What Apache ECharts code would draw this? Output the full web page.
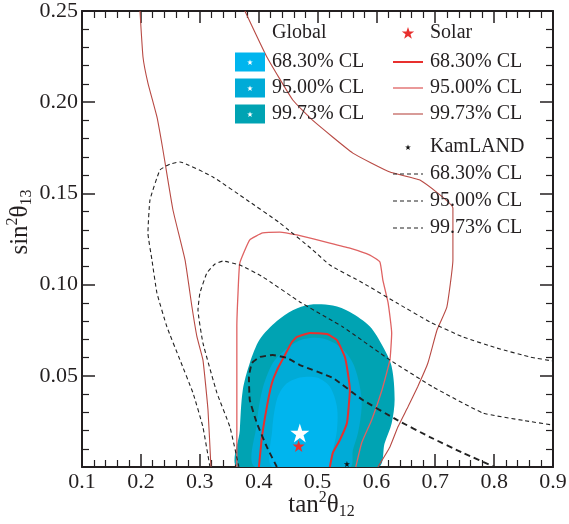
<!DOCTYPE html>
<html><head><meta charset="utf-8">
<script src="https://cdn.jsdelivr.net/npm/echarts@6/dist/echarts.min.js"></script>
<style>html,body{margin:0;padding:0;background:#fff}#c{width:569px;height:524px}</style>
</head><body><div id="c"></div>
<script>
// ---- data ----
const xRange = [0.1, 0.9];
const yRange = [0, 0.25];
const clLabels = ['68.30% CL', '95.00% CL', '99.73% CL'];

// Global fit, filled regions (tan^2 theta12, sin^2 theta13)
const global99 = [[0.365,0],[0.368,0.020],[0.373,0.042],[0.385,0.057],[0.402,0.070],[0.431,0.080],[0.458,0.086],[0.487,0.089],[0.526,0.0885],[0.555,0.085],[0.589,0.077],[0.611,0.066],[0.626,0.055],[0.631,0.037],[0.626,0.024],[0.614,0.013],[0.603,0]];
const global95 = [[0.394,0],[0.397,0.024],[0.406,0.042],[0.424,0.057],[0.448,0.065],[0.475,0.070],[0.509,0.0705],[0.538,0.066],[0.560,0.057],[0.572,0.044],[0.575,0.033],[0.569,0.019],[0.560,0.009],[0.555,0]];
const global68 = [[0.423,0],[0.423,0.020],[0.431,0.037],[0.445,0.045],[0.470,0.049],[0.499,0.049],[0.521,0.044],[0.533,0.033],[0.533,0.020],[0.526,0.009],[0.518,0]];

// Solar contours
const solar68 = [[0.4005,0],[0.4056,0.0164],[0.414,0.033],[0.4226,0.046],[0.431,0.053],[0.4447,0.0614],[0.4565,0.0685],[0.465,0.0713],[0.487,0.0735],[0.516,0.0729],[0.533,0.0696],[0.5465,0.0603],[0.5516,0.0515],[0.555,0.0422],[0.550,0.0241],[0.538,0.0148],[0.526,0.0077],[0.521,0]];
const solar95 = [[0.363,0],[0.363,0.0406],[0.363,0.0768],[0.365,0.0954],[0.368,0.1118],[0.385,0.1245],[0.407,0.1283],[0.436,0.1288],[0.465,0.1272],[0.521,0.1228],[0.555,0.120],[0.589,0.1162],[0.606,0.1124],[0.611,0.1025],[0.620,0.0899],[0.626,0.0735],[0.623,0.0587],[0.6095,0.0422],[0.592,0.0258],[0.575,0.0132],[0.565,0]];
const solar99Left = [[0.1985,0.25],[0.2036,0.2248],[0.212,0.2105],[0.2273,0.1919],[0.2375,0.1738],[0.2545,0.1409],[0.275,0.1135],[0.2868,0.0877],[0.2953,0.0713],[0.3054,0.0587],[0.314,0.0313],[0.319,0]];
const solar99Right = [[0.3767,0.25],[0.414,0.2248],[0.458,0.2012],[0.492,0.190],[0.560,0.1721],[0.623,0.1617],[0.674,0.1573],[0.730,0.142],[0.730,0.1135],[0.7197,0.0877],[0.703,0.0751],[0.6875,0.057],[0.670,0.0439],[0.6535,0.0329],[0.6365,0.0219],[0.623,0.011],[0.6025,0]];

// KamLAND contours
const kam68 = [[0.431,0],[0.414,0.011],[0.397,0.0241],[0.385,0.0367],[0.3835,0.0493],[0.3886,0.057],[0.402,0.0603],[0.424,0.0614],[0.448,0.0598],[0.470,0.0559],[0.526,0.0488],[0.577,0.0367],[0.635,0.0258],[0.691,0.0164],[0.747,0.0077],[0.801,0]];
const kam95 = [[0.3665,0],[0.3513,0.0219],[0.3292,0.0406],[0.3054,0.068],[0.297,0.0861],[0.3003,0.0954],[0.3122,0.1064],[0.3258,0.1113],[0.3394,0.1129],[0.3683,0.1107],[0.4073,0.1042],[0.470,0.0905],[0.543,0.0768],[0.623,0.0587],[0.696,0.0439],[0.781,0.0296],[0.850,0.0255],[0.900,0.0230]];
const kam99 = [[0.3173,0],[0.3054,0.0219],[0.2885,0.0406],[0.2664,0.0587],[0.2443,0.0768],[0.2273,0.0954],[0.2188,0.1135],[0.212,0.1283],[0.2155,0.1464],[0.2324,0.1628],[0.2494,0.1661],[0.2664,0.1672],[0.3224,0.159],[0.380,0.1464],[0.436,0.1338],[0.492,0.119],[0.521,0.1107],[0.577,0.1009],[0.635,0.0899],[0.691,0.0795],[0.747,0.0713],[0.8046,0.0652],[0.861,0.0603],[0.900,0.0581]];

// Best-fit points
const bestGlobal = [[0.470, 0.0186]];
const bestSolar = [[0.468, 0.0115]];
const bestKam = [[0.550, 0.0016]];

// ---- styling ----
const FONT = '"Liberation Serif", "Times New Roman", serif';
const TXT = '#231f20';
const fillCols = ['#00b5ee', '#00abd7', '#00a3b3'];
const solarCols = ['#e8302e', '#df6262', '#b84a44'];
const STAR = 'path://M50 0 L61.8 35.5 L99 35.5 L69 57.5 L80.5 93 L50 71 L19.5 93 L31 57.5 L1 35.5 L38.2 35.5 Z';

function poly(pts, color) {
  return {
    type: 'custom', coordinateSystem: 'cartesian2d', clip: true, silent: true,
    data: [pts[0]],
    renderItem: function (params, api) {
      return { type: 'polygon', shape: { points: pts.map(p => api.coord(p)), smooth: 0.3 }, style: { fill: color } };
    }
  };
}
function line(pts, color, width, type) {
  return { type: 'line', data: pts, smooth: 0.12, symbol: 'none', silent: true,
    lineStyle: { color: color, width: width, type: type || 'solid' }, z: 3 };
}

const baseAxis = {
  type: 'value',
  axisLine: { show: true, onZero: false, lineStyle: { color: TXT, width: 2 } },
  axisTick: { show: true, inside: true, length: 13, lineStyle: { color: TXT, width: 1.5 } },
  minorTick: { show: true, splitNumber: 5, length: 7, lineStyle: { color: TXT, width: 1.2 } },
  splitLine: { show: false }
};
const richName = {
  m: { fontFamily: FONT, fontSize: 25, color: TXT, lineHeight: 30 },
  sup: { fontFamily: FONT, fontSize: 16, color: TXT, verticalAlign: 'top', lineHeight: 18 },
  sub: { fontFamily: FONT, fontSize: 16, color: TXT, verticalAlign: 'bottom', lineHeight: 14 }
};
const labelRich = { t: { fontFamily: FONT, fontSize: 22, color: TXT } };
const labelStyle = { margin: 4, fontFamily: FONT, fontSize: 22, color: TXT, rich: labelRich };

const option = {
  animation: false,
  backgroundColor: '#fff',
  textStyle: { fontFamily: FONT },
  grid: { left: 82, right: 16, top: 11, bottom: 57, outerBoundsMode: 'none', containLabel: false },
  xAxis: [
    Object.assign({}, baseAxis, {
      min: xRange[0], max: xRange[1], interval: 0.1, position: 'bottom',
      axisLabel: Object.assign({}, labelStyle, { formatter: v => '{t|' + v.toFixed(1) + '}' }),
      name: '{m|tan}{sup|2}{m|θ}{sub|12}', nameLocation: 'middle', nameGap: 23, nameMoveOverlap: false,
      nameTextStyle: { rich: richName, padding: [0, 0, 0, 8] }
    }),
    Object.assign({}, baseAxis, {
      min: xRange[0], max: xRange[1], interval: 0.1, position: 'top',
      axisLabel: { show: false }, axisTick: Object.assign({}, baseAxis.axisTick, { length: 12 })
    })
  ],
  yAxis: [
    Object.assign({}, baseAxis, {
      min: yRange[0], max: yRange[1], interval: 0.05, position: 'left',
      axisLabel: Object.assign({}, labelStyle, { formatter: v => v === 0 ? '' : '{t|' + v.toFixed(2) + '}' }),
      name: '{m|sin}{sup|2}{m|θ}{sub|13}', nameLocation: 'middle', nameGap: 47, nameRotate: 90, nameMoveOverlap: false,
      nameTextStyle: { rich: richName, padding: [0, 0, 0, 34] }
    }),
    Object.assign({}, baseAxis, {
      min: yRange[0], max: yRange[1], interval: 0.05, position: 'right',
      axisLabel: { show: false }
    })
  ],
  series: [
    poly(global99, fillCols[2]),
    poly(global95, fillCols[1]),
    poly(global68, fillCols[0]),
    line(solar99Left, solarCols[2], 1.1),
    line(solar99Right, solarCols[2], 1.1),
    line(solar95, solarCols[1], 1.3),
    line(solar68, solarCols[0], 2),
    line(kam99, '#222', 1.1, [4, 3]),
    line(kam95, '#222', 1.1, [4, 3]),
    line(kam68, '#222', 1.9, [6, 4]),
    { type: 'scatter', data: bestGlobal, symbol: STAR, symbolSize: 19, itemStyle: { color: '#ffffff', opacity: 1 }, z: 5, silent: true },
    { type: 'scatter', data: bestSolar, symbol: STAR, symbolSize: 12, itemStyle: { color: '#e8302e', opacity: 1 }, z: 5, silent: true },
    { type: 'scatter', data: bestKam, symbol: STAR, symbolSize: 6, itemStyle: { color: '#111', opacity: 1 }, z: 5, silent: true }
  ],
  graphic: []
};

// ---- legend (drawn as graphic elements) ----
const rowY = [62, 88, 114];
const kamRowY = [174, 201, 228];
const g = option.graphic;
function txt(x, y, s) {
  g.push({ type: 'text', x: x, y: y, z: 100, style: { text: s, font: '20px ' + FONT, fill: TXT, textVerticalAlign: 'middle' } });
}
function star(cx, cy, size, color) {
  const pts = [];
  const R = size / 2, r = R * 0.4;
  for (let k = 0; k < 10; k++) {
    const a = -Math.PI / 2 + k * Math.PI / 5;
    const rr = k % 2 === 0 ? R : r;
    pts.push([cx + rr * Math.cos(a), cy + 0.5 + rr * Math.sin(a)]);
  }
  g.push({ type: 'polygon', z: 101, shape: { points: pts }, style: { fill: color } });
}
txt(272, 33, 'Global');
rowY.forEach((y, i) => {
  g.push({ type: 'rect', z: 100, shape: { x: 235, y: y - 9.5, width: 30, height: 19 }, style: { fill: fillCols[i] } });
  star(250, y, 6, '#fff');
  txt(272, y, clLabels[i]);
});
star(408, 33, 13, '#e8302e');
txt(430, 33, 'Solar');
const solW = [2, 1.3, 1.1];
rowY.forEach((y, i) => {
  g.push({ type: 'line', z: 100, shape: { x1: 393, y1: y, x2: 423, y2: y }, style: { stroke: solarCols[i], lineWidth: solW[i] } });
  txt(430, y, clLabels[i]);
});
star(408, 147, 6, '#111');
txt(430, 147, 'KamLAND');
kamRowY.forEach((y, i) => {
  g.push({ type: 'line', z: 100, shape: { x1: 393, y1: y, x2: 423, y2: y }, style: { stroke: '#222', lineWidth: 1.1, lineDash: [4, 3] } });
  txt(430, y, clLabels[i]);
});

const chart = echarts.init(document.getElementById('c'), null, { renderer: 'canvas' });
chart.setOption(option);
</script>
</body></html>
